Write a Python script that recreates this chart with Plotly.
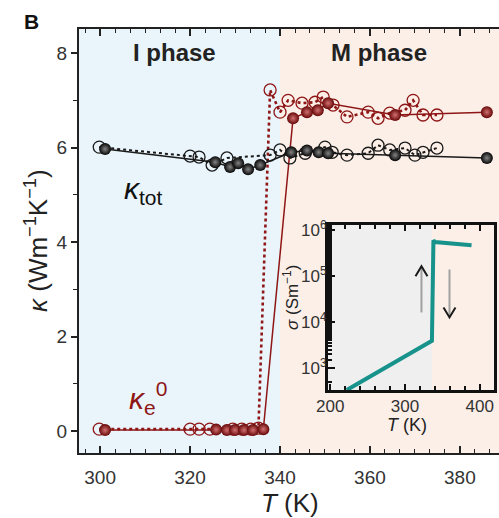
import plotly.graph_objects as go

# ---------------- data ----------------
# kappa_tot, filled (solid line)
T_tot_f = [301.1, 325.6, 328.9, 330.7, 332.9, 335.6, 342.5, 346.0, 348.6, 350.7, 365.6, 386.0]
k_tot_f = [5.97, 5.69, 5.59, 5.67, 5.54, 5.63, 5.90, 5.94, 5.90, 5.88, 5.84, 5.78]
# kappa_tot, open (dotted line)
T_tot_o = [299.8, 320.0, 322.0, 324.9, 328.2, 337.8, 340.0, 342.2, 345.6, 350.0, 351.6, 354.9,
           359.6, 361.8, 364.4, 367.8, 370.0, 371.8, 374.9]
k_tot_o = [6.01, 5.82, 5.80, 5.63, 5.78, 5.84, 5.95, 5.78, 5.88, 6.01, 5.90, 5.84,
           5.88, 6.05, 5.95, 5.99, 5.84, 5.90, 5.99]
# kappa_e^0, filled (solid line)
T_e_f = [301.1, 325.8, 328.2, 330.0, 332.0, 334.0, 336.3, 342.9, 346.0, 348.4, 350.7, 365.6, 386.0]
k_e_f = [0.02, 0.03, 0.02, 0.02, 0.02, 0.02, 0.04, 6.62, 6.75, 6.79, 6.94, 6.69, 6.75]
# kappa_e^0, open (dotted line)
T_e_o = [299.8, 320.0, 322.0, 324.4, 329.5, 331.5, 333.5, 335.2, 337.8, 340.0, 341.8, 344.9,
         347.8, 349.6, 351.8, 354.9, 359.6, 361.8, 364.4, 367.8, 369.6, 371.8, 374.9]
k_e_o = [0.04, 0.04, 0.04, 0.04, 0.04, 0.04, 0.04, 0.06, 7.22, 6.75, 7.00, 6.94,
         6.96, 7.07, 6.90, 6.65, 6.75, 6.62, 6.73, 6.79, 7.00, 6.69, 6.69]
# inset: electrical conductivity
T_sigma = [222, 334, 336, 338, 340, 389]
sigma = [330, 3550, 3900, 6.0e5, 5.5e5, 4.7e5]

x_ticks = [300, 320, 340, 360, 380]
y_ticks = [0, 2, 4, 6, 8]
inset_x_ticks = [200, 300, 400]
inset_y_ticks = [1e3, 1e4, 1e5, 1e6]
inset_y_text = ["10<sup>3</sup>", "10<sup>4</sup>", "10<sup>5</sup>", "10<sup>6</sup>"]
T_transition = 340
T_inset_transition = 336

# ---------------- style ----------------
RED = "#8e1616"
BLACK = "#1a1a1a"
TEAL = "#17938b"
BLUE_BG = "#eaf5fb"
PINK_BG = "#fcefe8"
FONT = "Liberation Sans, Arial, sans-serif"

XR = [295.3, 388.7]
YR = [-0.465, 8.51]

fig = go.Figure()

# dotted lines (open symbols)
fig.add_trace(go.Scatter(x=T_tot_o, y=k_tot_o, mode="lines",
                         line=dict(color=BLACK, width=2, dash="dot"), showlegend=False))
fig.add_trace(go.Scatter(x=T_e_o, y=k_e_o, mode="lines",
                         line=dict(color=RED, width=2.6, dash="dot"), showlegend=False))
# solid lines (filled symbols)
fig.add_trace(go.Scatter(x=T_tot_f, y=k_tot_f, mode="lines",
                         line=dict(color=BLACK, width=1.5), showlegend=False))
fig.add_trace(go.Scatter(x=T_e_f, y=k_e_f, mode="lines",
                         line=dict(color=RED, width=1.5), showlegend=False))
# open markers
fig.add_trace(go.Scatter(x=T_tot_o, y=k_tot_o, mode="markers",
                         marker=dict(symbol="circle-open", size=12, color=BLACK,
                                     line=dict(width=1.3)), showlegend=False))
fig.add_trace(go.Scatter(x=T_e_o, y=k_e_o, mode="markers",
                         marker=dict(symbol="circle-open", size=12, color=RED,
                                     line=dict(width=1.3)), showlegend=False))
# filled (shaded) markers
fig.add_trace(go.Scatter(x=T_tot_f, y=k_tot_f, mode="markers",
                         marker=dict(size=12, color="#050505",
                                     gradient=dict(type="radial", color="#848484"),
                                     line=dict(width=0)), showlegend=False))
fig.add_trace(go.Scatter(x=T_e_f, y=k_e_f, mode="markers",
                         marker=dict(size=12, color="#660606",
                                     gradient=dict(type="radial", color="#d07070"),
                                     line=dict(width=0)), showlegend=False))

# inset trace
fig.add_trace(go.Scatter(x=T_sigma, y=sigma, mode="lines", xaxis="x2", yaxis="y2",
                         line=dict(color=TEAL, width=4), showlegend=False))

# ---------------- backgrounds ----------------
shapes = [
    dict(type="rect", xref="x", yref="y domain", x0=XR[0], x1=T_transition, y0=0, y1=1,
         fillcolor=BLUE_BG, line=dict(width=0), layer="below"),
    dict(type="rect", xref="x", yref="y domain", x0=T_transition, x1=XR[1], y0=0, y1=1,
         fillcolor=PINK_BG, line=dict(width=0), layer="below"),
    dict(type="rect", xref="x2", yref="y2 domain", x0=197, x1=T_inset_transition, y0=0, y1=1,
         fillcolor="#efefef", line=dict(width=0), layer="below"),
    # up arrow (heating)
    dict(type="line", xref="x2", yref="y2 domain", x0=322, x1=322, y0=0.47, y1=0.74,
         line=dict(color="#a0a0a0", width=2)),
    dict(type="path", xref="x2", yref="y2 domain",
         path="M 314,0.69 L 322,0.75 L 330,0.69", line=dict(color=BLACK, width=2)),
    # down arrow (cooling)
    dict(type="line", xref="x2", yref="y2 domain", x0=359.5, x1=359.5, y0=0.73, y1=0.45,
         line=dict(color="#a0a0a0", width=2)),
    dict(type="path", xref="x2", yref="y2 domain",
         path="M 351.5,0.50 L 359.5,0.44 L 367.5,0.50", line=dict(color=BLACK, width=2)),
]

def px2paper(px, py):
    return (px - 79) / 420.0, (453 - py) / 424.0

ann = []
def add_text(text, px, py, size, color="#222222", bold=False, angle=0, xanchor="center"):
    x, y = px2paper(px, py)
    ann.append(dict(text=("<b>%s</b>" % text) if bold else text, x=x, y=y, xref="paper",
                    yref="paper", showarrow=False, textangle=angle, xanchor=xanchor,
                    yanchor="middle", font=dict(family=FONT, size=size, color=color)))

add_text("B", 31, 21, 21, color="#111111", bold=True)
add_text("I phase", 174, 53, 24, bold=True)
add_text("M phase", 379, 53, 24, bold=True)
add_text("<i>κ</i><sub>tot</sub>", 122, 190, 30, color="#111111", xanchor="left")
add_text("<i>κ</i><sub>e</sub><sup>0</sup>", 127, 398, 30, color=RED, xanchor="left")
add_text("<i>κ</i> (Wm<sup>−1</sup>K<sup>−1</sup>)", 36, 241, 26, color="#222222", angle=-90)
add_text("<i>T</i> (K)", 290, 503, 26, color="#222222")
add_text("<i>σ</i> (Sm<sup>−1</sup>)", 291, 298, 17, color="#222222", angle=-90)
add_text("<i>T</i> (K)", 407, 425, 18, color="#222222")

fig.update_layout(
    width=499, height=518,
    margin=dict(l=79, r=0, t=29, b=65),
    paper_bgcolor="white", plot_bgcolor="rgba(0,0,0,0)",
    font=dict(family=FONT, color="#333333"),
    shapes=shapes, annotations=ann,
    xaxis=dict(range=XR, domain=[0, 1], tickvals=x_ticks, ticks="inside", ticklen=7,
               tickwidth=1.5, tickcolor="#222222", showline=True, linecolor="#222222",
               linewidth=2, mirror="ticks", showgrid=False, zeroline=False,
               tickfont=dict(size=19, color="#333333"), ticklabelstandoff=6,
               minor=dict(dtick=20 / 6, ticks="inside", ticklen=4, tickwidth=1.2,
                          tickcolor="#222222", showgrid=False)),
    yaxis=dict(range=YR, domain=[0, 1], tickvals=y_ticks, ticks="outside", ticklen=6,
               tickwidth=1.5, tickcolor="#222222", showline=True, linecolor="#222222",
               linewidth=2, showgrid=False, zeroline=False,
               tickfont=dict(size=19, color="#333333"),
               minor=dict(dtick=1, ticks="outside", ticklen=4, tickwidth=1.2,
                          tickcolor="#222222", showgrid=False)),
    xaxis2=dict(domain=[0.593, 0.988], anchor="y2", range=[197, 419],
                tickvals=inset_x_ticks, ticks="inside", ticklen=6, tickwidth=2,
                tickcolor="#111111", showline=True, linecolor="#111111", linewidth=3,
                mirror="ticks", showgrid=False, zeroline=False,
                tickfont=dict(size=17, color="#333333"), ticklabelstandoff=-1,
                minor=dict(dtick=20, ticks="inside", ticklen=4, tickwidth=1.5,
                           tickcolor="#111111", showgrid=False)),
    yaxis2=dict(domain=[0.1486, 0.5377], anchor="x2", type="log", range=[2.52, 6.11],
                tickvals=inset_y_ticks, ticktext=inset_y_text, ticks="inside", ticklen=7,
                tickwidth=2, tickcolor="#111111", showline=True, linecolor="#111111",
                linewidth=3, mirror=True, showgrid=False, zeroline=False,
                tickfont=dict(size=17, color="#333333"), ticklabelstandoff=-5,
                minor=dict(ticks="inside", ticklen=4, tickwidth=1.5, tickcolor="#111111",
                           showgrid=False)),
)

fig.write_html("out.html",
               config={"displayModeBar": False},
               post_script="document.body.style.margin='0';"
                           "document.body.style.overflow='hidden';")
